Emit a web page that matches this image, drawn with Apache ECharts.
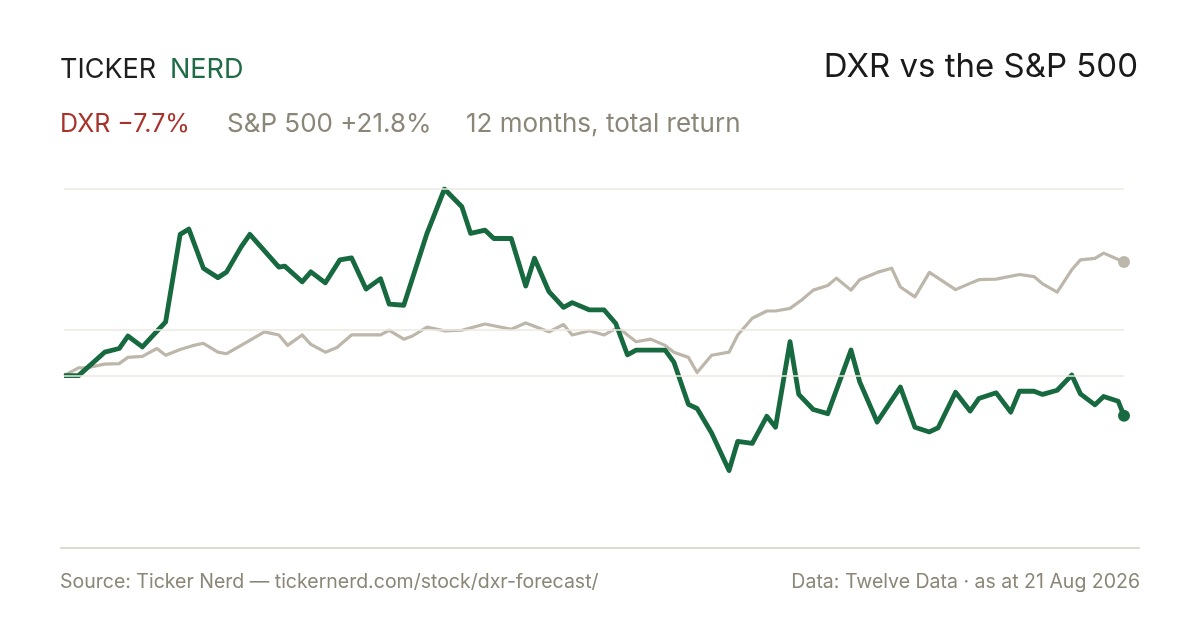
<!DOCTYPE html>
<html>
<head>
<meta charset="utf-8">
<script src="https://cdn.jsdelivr.net/npm/echarts@6/dist/echarts.min.js"></script>
<style>
  html, body { margin: 0; padding: 0; background: #fff; }
  #main { width: 1200px; height: 630px; }
</style>
</head>
<body>
<div id="main"></div>
<script>
'use strict';

// days since 21 Aug 2025, total return in %
const dxrDays = [0, 5, 14, 19, 22, 27, 35, 40, 43, 48, 53, 56, 61, 64, 74, 76, 82, 85, 90, 95,
  99, 104, 109, 112, 117, 125, 131, 137, 140, 145, 148, 154, 159, 162, 167, 172, 175, 181, 186, 190,
  194, 197, 207, 210, 215, 218, 223, 229, 232, 237, 242, 245, 250, 253, 258, 263, 271, 274, 280, 288,
  293, 298, 301, 307, 312, 315, 321, 326, 329, 334, 337, 342, 347, 350, 355, 358, 363, 365];
const dxrReturn = [0.0, 0.0, 4.5, 5.2, 7.6, 5.5, 10.3, 27.1, 28.1, 20.6, 18.8, 19.9, 24.7, 27.1, 20.8, 21.0, 18.0, 19.9, 17.8, 22.2,
  22.6, 16.6, 18.6, 13.7, 13.5, 27.3, 35.8, 32.4, 27.3, 27.9, 26.3, 26.3, 17.2, 22.5, 16.1, 13.1, 14.0, 12.6, 12.6, 10.0,
  4.0, 4.9, 4.9, 2.6, -5.5, -6.3, -11.0, -18.2, -12.6, -13.0, -7.8, -9.9, 6.5, -3.6, -6.5, -7.3, 4.9, -1.2, -8.9, -2.2,
  -9.9, -10.8, -10.0, -3.2, -6.8, -4.4, -3.3, -7.0, -3.0, -3.0, -3.6, -2.8, 0.1, -3.5, -5.6, -4.0, -4.9, -7.7];

const spxDays = [0, 5, 8, 14, 19, 22, 27, 32, 35, 40, 44, 48, 53, 56, 61, 69, 74, 77, 82, 85,
  90, 94, 99, 109, 112, 117, 120, 125, 131, 137, 145, 154, 159, 167, 172, 175, 181, 186, 190, 192,
  197, 202, 207, 210, 215, 218, 223, 229, 232, 237, 242, 245, 250, 254, 258, 263, 266, 271, 274, 280,
  285, 288, 293, 298, 307, 312, 315, 321, 329, 334, 337, 342, 347, 350, 355, 358, 365];
const spxReturn = [0.0, 1.5, 1.5, 2.2, 2.3, 3.5, 3.7, 5.2, 3.9, 5.0, 5.7, 6.2, 4.5, 4.2, 5.8, 8.4, 7.8, 5.8, 7.8, 6.0,
  4.5, 5.4, 7.8, 7.8, 8.7, 7.0, 7.6, 9.3, 8.6, 8.7, 9.9, 8.9, 10.1, 8.4, 9.8, 7.8, 8.6, 7.8, 9.0, 8.7,
  6.5, 7.0, 5.8, 4.5, 3.5, 0.6, 3.9, 4.5, 7.8, 11.0, 12.4, 12.4, 12.9, 14.5, 16.4, 17.3, 18.7, 16.4, 18.4, 19.8,
  20.6, 17.0, 15.1, 19.8, 16.5, 17.7, 18.4, 18.5, 19.4, 19.0, 17.6, 16.0, 20.3, 22.2, 22.5, 23.5, 21.8];

const headline = ['DXR \u22127.7%', 'S&P 500 +21.8%', '12 months, total return'];

const GREEN = '#17693f';
const BEIGE = '#bdb6aa';
const GRID = '#ece8e0';
const GREY = '#8b8677';

const pairs = (xs, ys) => xs.map((x, i) => [x, ys[i]]);
const yMax = Math.max(...dxrReturn, ...spxReturn);
const yMin = Math.min(...dxrReturn, ...spxReturn);
const lastIdx = dxrDays.length - 1;
const spxLast = spxDays.length - 1;

const chart = echarts.init(document.getElementById('main'), null, { renderer: 'canvas' });

const options = {
  backgroundColor: '#ffffff',
  animation: false,
  grid: { left: 64, right: 76, top: 189, bottom: 159.5 },
  xAxis: {
    type: 'value', min: 0, max: 365, show: false
  },
  yAxis: {
    type: 'value', min: yMin, max: yMax, show: false, splitLine: { show: false }
  },
  series: [
    {
      name: 'guides', type: 'line', data: [], z: 1, silent: true,
      markLine: {
        silent: true, symbol: 'none', label: { show: false },
        lineStyle: { color: GRID, width: 1.5, type: 'solid' },
        data: [{ yAxis: yMax }, { yAxis: (yMax + yMin) / 2 }, { yAxis: 0 }]
      }
    },
    {
      name: 'S&P 500', type: 'line', data: pairs(spxDays, spxReturn), z: 2,
      showSymbol: false, lineStyle: { color: BEIGE, width: 3.2, join: 'round' },
      itemStyle: { color: BEIGE }
    },
    {
      name: 'DXR', type: 'line', data: pairs(dxrDays, dxrReturn), z: 3,
      showSymbol: false, lineStyle: { color: GREEN, width: 4.8, join: 'round' },
      itemStyle: { color: GREEN }
    },
    {
      type: 'scatter', z: 4, symbolSize: 12,
      data: [
        { value: [spxDays[spxLast], spxReturn[spxLast]], itemStyle: { color: BEIGE, opacity: 1 } },
        { value: [dxrDays[lastIdx], dxrReturn[lastIdx]], itemStyle: { color: GREEN, opacity: 1 } }
      ]
    }
  ],
  graphic: [
    { type: 'text', left: 60, top: 56, style: { text: 'TICKER', fill: '#1e1e1e', font: '400 27px Inter' } },
    { type: 'text', left: 170, top: 56, style: { text: 'NERD', fill: '#1f6b46', font: '400 27px Inter' } },
    { type: 'text', right: 62, top: 51, style: { text: 'DXR vs the S&P 500', fill: '#1a1a1a', font: '400 33px Inter' } },
    { type: 'text', left: 60, top: 112, style: { text: headline[0], fill: '#a8322a', font: '400 25px Inter' } },
    { type: 'text', left: 227, top: 111, style: { text: headline[1], fill: GREY, font: '400 26px Inter' } },
    { type: 'text', left: 466, top: 111, style: { text: headline[2], fill: GREY, font: '400 26px Inter' } },
    { type: 'rect', left: 60, top: 547, shape: { width: 1080, height: 2 }, style: { fill: '#dedacf' } },
    { type: 'text', left: 60, top: 572, style: { text: 'Source: Ticker Nerd \u2014 tickernerd.com/stock/dxr-forecast/', fill: GREY, font: '400 19.5px Inter' } },
    { type: 'text', right: 60, top: 572, style: { text: 'Data: Twelve Data \u00b7 as at 21 Aug 2026', fill: GREY, font: '400 19.5px Inter' } }
  ]
};

chart.setOption(options);
window.onresize = function () { chart.resize(); };
</script>
</body>
</html>
